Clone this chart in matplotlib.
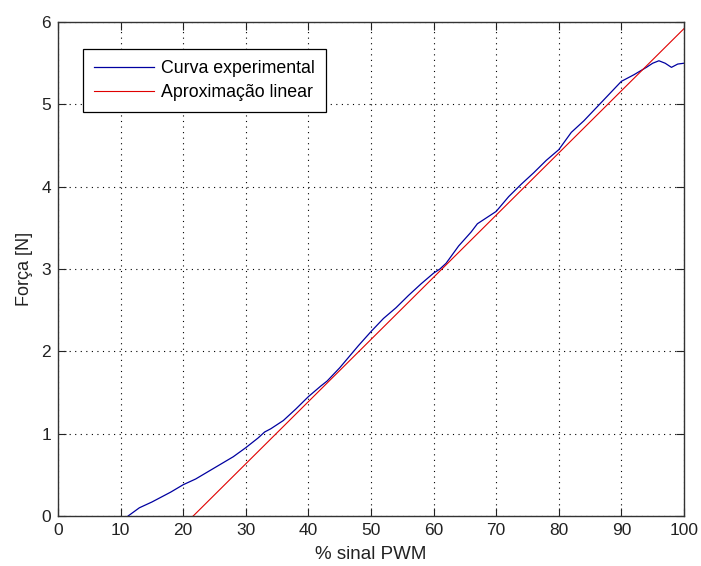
import matplotlib
matplotlib.use("Agg")
import matplotlib.pyplot as plt

# experimental curve
pwm_exp = [11.2, 13, 15, 17, 18, 20, 22, 24, 26, 28, 30, 32, 33, 34, 36, 38, 40,
           42, 43, 45, 47, 48, 50, 52, 54, 56, 58, 60, 61, 62, 64, 66, 67, 68, 70,
           72, 74, 76, 78, 80, 82, 84, 86, 88, 90, 92, 94, 95, 96, 97, 98, 99, 100]
force_exp = [0.0, 0.10, 0.17, 0.25, 0.29, 0.38, 0.45, 0.54, 0.63, 0.72, 0.83, 0.95,
             1.02, 1.06, 1.16, 1.30, 1.45, 1.58, 1.64, 1.80, 1.98, 2.07, 2.24, 2.40,
             2.53, 2.68, 2.82, 2.95, 3.00, 3.07, 3.28, 3.45, 3.55, 3.60, 3.70, 3.88,
             4.03, 4.17, 4.32, 4.45, 4.66, 4.80, 4.96, 5.12, 5.28, 5.36, 5.45, 5.50,
             5.53, 5.50, 5.45, 5.49, 5.50]

# linear fit endpoints
pwm_fit = [21.6, 100]
force_fit = [0.0, 5.92]

x_ticks = [0, 10, 20, 30, 40, 50, 60, 70, 80, 90, 100]
y_ticks = [0, 1, 2, 3, 4, 5, 6]

plt.rcParams['font.family'] = ['Liberation Sans', 'DejaVu Sans']

fig = plt.figure(figsize=(7.01, 5.66), dpi=100)
ax = fig.add_axes([0.0827, 0.0883, 0.893, 0.8727])

ax.plot(pwm_exp, force_exp, color="#0000a0", lw=0.9, label="Curva experimental")
ax.plot(pwm_fit, force_fit, color="#e00000", lw=0.8, label="Aproximação linear")

ax.set_xlim(0, 100)
ax.set_ylim(0, 6)
ax.set_xticks(x_ticks)
ax.set_yticks(y_ticks)
ax.tick_params(direction="in", length=6, width=0.8, top=True, right=True,
               labelsize=12.5, colors="#222222", pad=5)
ax.grid(True, color="black", linestyle=(0, (1, 4)), linewidth=0.8)
for s in ax.spines.values():
    s.set_linewidth(1.0)
    s.set_color("#333333")

ax.set_xlabel("% sinal PWM", fontsize=13.5, labelpad=6, color="#222222")
ax.set_ylabel("Força [N]", fontsize=13, labelpad=6, color="#222222")

leg = ax.legend(loc="upper left", bbox_to_anchor=(0.04, 0.945), borderaxespad=0,
                fancybox=False, framealpha=1, edgecolor="black", fontsize=12.8,
                handlelength=3.4, handletextpad=0.4, labelspacing=0.4,
                borderpad=0.6)
leg.get_frame().set_linewidth(0.9)

fig.savefig("out.png", dpi=100)
